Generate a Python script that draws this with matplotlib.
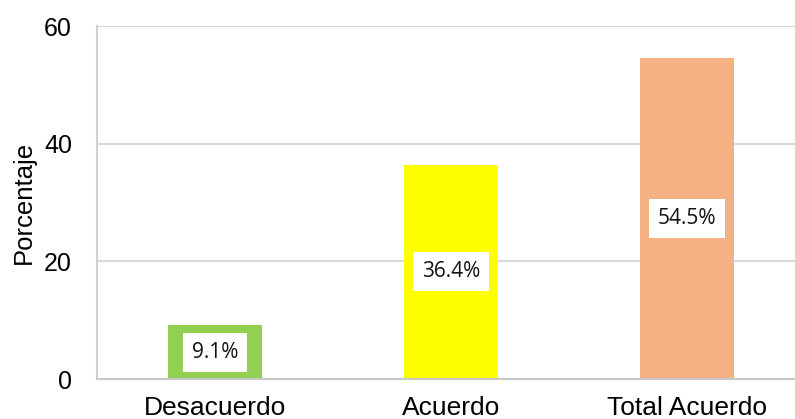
import matplotlib.pyplot as plt

categories = ["Desacuerdo", "Acuerdo", "Total Acuerdo"]
values = [9.1, 36.4, 54.5]
labels = ["9.1%", "36.4%", "54.5%"]
colors = ["#92D050", "#FFFF00", "#F4B183"]


def main():
    fig = plt.figure(figsize=(7.95, 4.19), dpi=100)
    ax = fig.add_axes([97 / 795, 40 / 419, 708 / 795, 353 / 419])

    x = list(range(len(categories)))
    bars = ax.bar(x, values, width=0.40, color=colors, zorder=2)

    for b, lab in zip(bars, labels):
        ax.text(b.get_x() + b.get_width() / 2, b.get_height() / 2, lab,
                ha="center", va="center", fontsize=15, family="Open Sans",
                color="#111111", zorder=3,
                bbox=dict(facecolor="white", edgecolor="none", pad=6.5))

    ax.set_xlim(-0.5, 2.5)
    ax.set_ylim(0, 60)
    ax.set_yticks([0, 20, 40, 60])
    ax.set_xticks(x)
    ax.set_xticklabels(categories)
    ax.yaxis.grid(True, color="#D9D9D9", linewidth=1.5, zorder=0)
    ax.set_axisbelow(True)

    for s in ["top", "right"]:
        ax.spines[s].set_visible(False)
    ax.spines["left"].set_color("#D0D0D0")
    ax.spines["left"].set_linewidth(1.5)
    ax.spines["bottom"].set_color("#C8C8C8")
    ax.spines["bottom"].set_linewidth(1.5)

    ax.tick_params(axis="y", length=0, pad=18, labelsize=18,
                   labelfontfamily="Liberation Sans")
    ax.tick_params(axis="x", length=0, pad=12, labelsize=19,
                   labelfontfamily="Liberation Sans")
    ax.set_ylabel("Porcentaje", fontsize=18.5, family="Liberation Sans",
                  labelpad=6)

    fig.savefig("out.png", dpi=100)


if __name__ == "__main__":
    main()
